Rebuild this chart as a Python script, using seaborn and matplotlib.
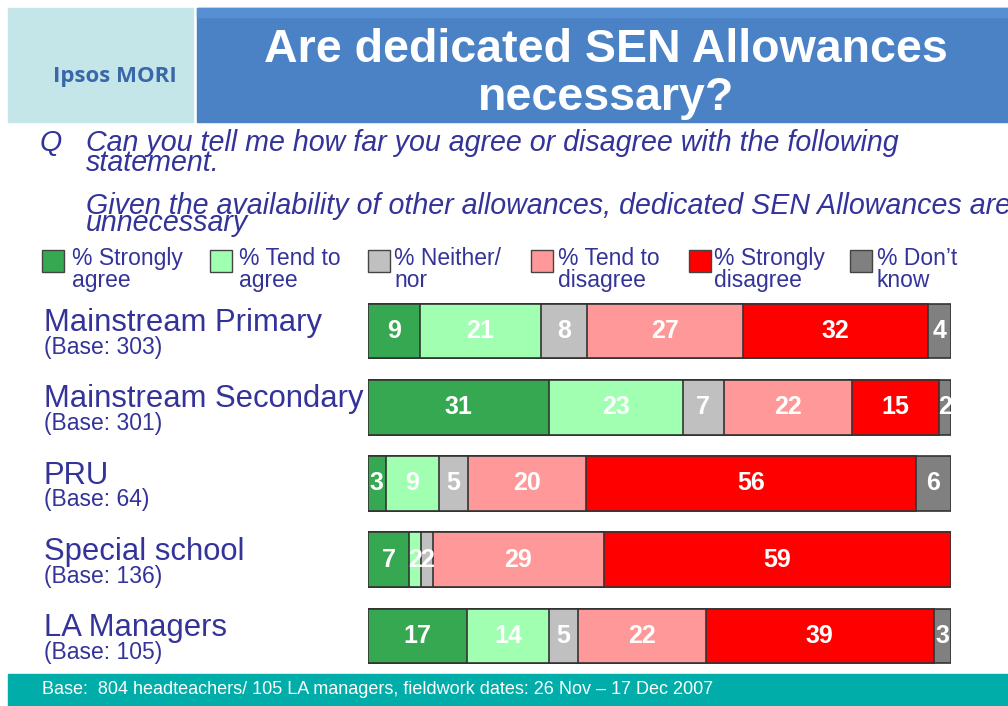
"""
Ipsos MORI slide: are dedicated SEN Allowances necessary?
"""
import numpy as np
import pandas as pd
import matplotlib
matplotlib.use('Agg')
import matplotlib.pyplot as plt
from matplotlib.patches import Rectangle
from matplotlib.transforms import blended_transform_factory
import seaborn as sns

# Datos del gráfico
groups = ['Mainstream Primary', 'Mainstream Secondary', 'PRU', 'Special school', 'LA Managers']
bases = ['(Base: 303)', '(Base: 301)', '(Base: 64)', '(Base: 136)', '(Base: 105)']
answers = ['% Strongly\nagree', '% Tend to\nagree', '% Neither/\nnor',
           '% Tend to\ndisagree', '% Strongly\ndisagree', '% Don\u2019t\nknow']
strongly_agree = [9, 31, 3, 7, 17]
tend_agree = [21, 23, 9, 2, 14]
neither = [8, 7, 5, 2, 5]
tend_disagree = [27, 22, 20, 29, 22]
strongly_disagree = [32, 15, 56, 59, 39]
dont_know = [4, 2, 6, 0, 3]

colours = ['#36A852', '#A0FFB0', '#C0C0C0', '#FF9999', '#FF0000', '#808080']
TEXT = '#333399'

W, H = 1008, 706


def fx(px):
    return px / W


def fy(py):
    return 1 - py / H


def main():
    sns.set_style('white')
    plt.rcParams['font.family'] = ['Liberation Sans', 'DejaVu Sans']

    fig = plt.figure(figsize=(W / 100, H / 100), dpi=100)

    # Cabecera
    fig.add_artist(Rectangle((fx(8), fy(122)), fx(193) - fx(8), 114 / H,
                             color='#C4E6E8', transform=fig.transFigure, zorder=0))
    fig.add_artist(Rectangle((fx(197), fy(122)), fx(1008) - fx(197), 114 / H,
                             color='#4A82C5', transform=fig.transFigure, zorder=0))
    fig.add_artist(Rectangle((fx(197), fy(17)), fx(1008) - fx(197), 9 / H,
                             color='#5690D2', transform=fig.transFigure, zorder=0))
    fig.text(fx(115), fy(82), 'Ipsos MORI', ha='center', va='baseline',
             fontsize=16, fontweight='bold', color='#3A66AA',
             family=['Open Sans', 'DejaVu Sans'])
    fig.text(fx(606), fy(62), 'Are dedicated SEN Allowances', ha='center',
             va='baseline', fontsize=33.5, fontweight='bold', color='white')
    fig.text(fx(606), fy(110), 'necessary?', ha='center',
             va='baseline', fontsize=33.5, fontweight='bold', color='white')

    # Pregunta
    q_style = dict(fontsize=20.6, style='italic', color=TEXT, va='baseline')
    fig.text(fx(40), fy(151), 'Q', **q_style)
    fig.text(fx(86), fy(151), 'Can you tell me how far you agree or disagree with the following', **q_style)
    fig.text(fx(86), fy(171), 'statement.', **q_style)
    fig.text(fx(86), fy(214), 'Given the availability of other allowances, dedicated SEN Allowances are', **q_style)
    fig.text(fx(86), fy(231), 'unnecessary', **q_style)

    # Leyenda
    square_x = [42, 210, 368, 531, 689, 850]
    label_x = [72, 239, 394, 558, 714, 877]
    for k, label in enumerate(answers):
        fig.add_artist(Rectangle((fx(square_x[k]), fy(272)), 22 / W, 22 / H,
                                 facecolor=colours[k], edgecolor='#444444', lw=1,
                                 transform=fig.transFigure))
        line1, line2 = label.split('\n')
        fig.text(fx(label_x[k]), fy(265), line1, fontsize=16.5, color=TEXT, va='baseline')
        fig.text(fx(label_x[k]), fy(287), line2, fontsize=16.5, color=TEXT, va='baseline')

    # Barras apiladas al 100%
    ax = fig.add_axes([fx(368), fy(674), (951 - 368) / W, 381 / H])
    values = np.array([strongly_agree, tend_agree, neither, tend_disagree,
                       strongly_disagree, dont_know], dtype=float)
    shares = values / values.sum(axis=0) * 100
    ends = shares.cumsum(axis=0)
    starts = ends - shares

    for k in range(len(answers) - 1, -1, -1):
        seg = pd.DataFrame({'group': groups, 'end': ends[k]})
        sns.barplot(data=seg, x='end', y='group', orient='h', color=colours[k],
                    saturation=1, width=0.715, edgecolor='#333333', linewidth=1.2,
                    errorbar=None, ax=ax)

    for k in range(len(answers)):
        for i in range(len(groups)):
            if values[k, i] > 0:
                ax.text((starts[k, i] + ends[k, i]) / 2, i, str(int(values[k, i])),
                        ha='center', va='center', color='white',
                        fontsize=18, fontweight='bold')

    ax.set_xlim(0, 100)
    ax.set_ylim(4.5, -0.5)
    ax.set_axis_off()

    # Etiquetas de grupo
    trans = blended_transform_factory(fig.transFigure, ax.transData)
    for i, (name, base) in enumerate(zip(groups, bases)):
        ax.text(fx(44), i + 0.0, name, transform=trans, fontsize=22.3,
                color=TEXT, va='baseline', ha='left')
        ax.text(fx(44), i + 0.3, base, transform=trans, fontsize=16.5,
                color=TEXT, va='baseline', ha='left')

    # Pie
    fig.add_artist(Rectangle((fx(8), 0), fx(1008) - fx(8), 32 / H,
                             color='#00ADA9', transform=fig.transFigure, zorder=0))
    fig.text(fx(42), fy(690), 'Base:  804 headteachers/ 105 LA managers, fieldwork dates: 26 Nov \u2013 17 Dec 2007',
             fontsize=13, color='white', va='center')

    fig.savefig('out.png', dpi=100)
    plt.close(fig)


if __name__ == '__main__':
    main()
